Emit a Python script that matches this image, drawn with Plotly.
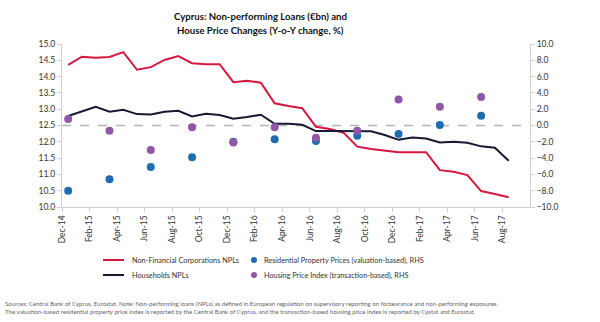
import plotly.graph_objects as go

# ---- data ----
months = ["Dec-14","Jan-15","Feb-15","Mar-15","Apr-15","May-15","Jun-15","Jul-15","Aug-15","Sep-15",
          "Oct-15","Nov-15","Dec-15","Jan-16","Feb-16","Mar-16","Apr-16","May-16","Jun-16","Jul-16",
          "Aug-16","Sep-16","Oct-16","Nov-16","Dec-16","Jan-17","Feb-17","Mar-17","Apr-17","May-17",
          "Jun-17","Jul-17","Aug-17"]
nfc_npl = [14.36,14.61,14.58,14.60,14.75,14.21,14.29,14.51,14.63,14.41,
           14.38,14.38,13.83,13.87,13.81,13.18,13.10,13.03,12.46,12.39,
           12.28,11.85,11.78,11.73,11.68,11.68,11.68,11.13,11.08,10.98,
           10.49,10.40,10.30]
hh_npl = [12.79,12.94,13.07,12.92,12.98,12.85,12.84,12.92,12.95,12.78,
          12.86,12.82,12.71,12.76,12.83,12.55,12.55,12.52,12.33,12.33,
          12.33,12.34,12.32,12.21,12.06,12.13,12.10,11.98,12.00,11.97,
          11.86,11.82,11.42]
quarters = ["Dec-14","Mar-15","Jun-15","Sep-15","Dec-15","Mar-16","Jun-16","Sep-16","Dec-16","Mar-17","Jun-17"]
res_prop_prices = [-8.0,-6.6,-5.1,-3.9,-2.0,-1.7,-1.9,-1.25,-1.05,0.05,1.2]
housing_price_idx = [0.8,-0.65,-3.0,-0.2,-2.1,-0.2,-1.5,-0.65,3.2,2.3,3.5]
tick_labels = ["Dec-14","Feb-15","Apr-15","Jun-15","Aug-15","Oct-15","Dec-15","Feb-16","Apr-16",
               "Jun-16","Aug-16","Oct-16","Dec-16","Feb-17","Apr-17","Jun-17","Aug-17"]
legend_names = ["Non-Financial Corporations NPLs","Households NPLs",
                "Residential Property Prices (valuation-based), RHS",
                "Housing Price Index (transaction-based), RHS"]
title_lines = ["Cyprus: Non-performing Loans (€bn) and", "House Price Changes (Y-o-Y change, %)"]

RED = "#d6163f"
NAVY = "#141a33"
BLUE = "#1f6db0"
PURPLE = "#9157a6"
OFF = 0.45

xm = [months.index(m) + OFF for m in months]
xq = [months.index(q) + OFF for q in quarters]
tickvals = [months.index(t) for t in tick_labels]

FONT = "Lato, Liberation Sans, Arial, sans-serif"
TXT = "#333333"

fig = go.Figure()
fig.add_trace(go.Scatter(x=xm, y=nfc_npl, mode="lines", line=dict(color=RED, width=2),
                         name=legend_names[0], showlegend=False))
fig.add_trace(go.Scatter(x=xm, y=hh_npl, mode="lines", line=dict(color=NAVY, width=2),
                         name=legend_names[1], showlegend=False))
fig.add_trace(go.Scatter(x=xq, y=res_prop_prices, mode="markers", yaxis="y2",
                         marker=dict(color=BLUE, size=8), name=legend_names[2], showlegend=False))
fig.add_trace(go.Scatter(x=xq, y=housing_price_idx, mode="markers", yaxis="y2",
                         marker=dict(color=PURPLE, size=8), name=legend_names[3], showlegend=False))

# zero line on RHS (dashed)
fig.add_shape(type="line", xref="x", yref="y2", x0=0, x1=34, y0=0, y1=0,
              line=dict(color="#b5b5b5", width=1.5, dash="dash"), layer="below")

axis_common = dict(showgrid=False, zeroline=False, showline=True, linecolor="#cfcfcf", linewidth=1,
                   ticks="outside", ticklen=4, tickcolor="#cfcfcf",
                   tickfont=dict(family=FONT, size=8.5, color=TXT))
fig.update_layout(
    width=600, height=322,
    margin=dict(l=62, r=70, t=44, b=115),
    paper_bgcolor="white", plot_bgcolor="white",
    font=dict(family=FONT, size=8.5, color=TXT),
    showlegend=False,
    xaxis=dict(range=[0, 34], tickvals=tickvals, ticktext=tick_labels, tickangle=-90, **axis_common),
    yaxis=dict(range=[10, 15], dtick=0.5, tickformat=".1f", **axis_common),
    yaxis2=dict(range=[-10, 10], dtick=2, tickformat=".1f", overlaying="y", side="right", **axis_common),
)

def px_x(px):
    return (px - 62) / 468

def px_y(py):
    return (207 - py) / 163

# title
for line, py in zip(title_lines, [16, 30]):
    fig.add_annotation(xref="paper", yref="paper", x=px_x(260), y=px_y(py),
                       text="<b>" + line + "</b>", showarrow=False, xanchor="center", yanchor="middle",
                       font=dict(family=FONT, size=9.6, color="#111111"))

# manual legend
leg_rows = [260, 275]
LEG_SIZE = 7.3
for name, color, row in [(legend_names[0], RED, 0), (legend_names[1], NAVY, 1)]:
    fig.add_shape(type="line", xref="paper", yref="paper", x0=px_x(103), x1=px_x(124),
                  y0=px_y(leg_rows[row]), y1=px_y(leg_rows[row]), line=dict(color=color, width=2))
    fig.add_annotation(xref="paper", yref="paper", x=px_x(130), y=px_y(leg_rows[row]), text=name,
                       showarrow=False, xanchor="left", yanchor="middle",
                       font=dict(family=FONT, size=LEG_SIZE, color=TXT))
for name, color, row in [(legend_names[2], BLUE, 0), (legend_names[3], PURPLE, 1)]:
    fig.add_shape(type="circle", xref="paper", yref="paper", x0=px_x(251), x1=px_x(257),
                  y0=px_y(leg_rows[row] - 3), y1=px_y(leg_rows[row] + 3),
                  fillcolor=color, line=dict(color=color, width=0))
    fig.add_annotation(xref="paper", yref="paper", x=px_x(262), y=px_y(leg_rows[row]), text=name,
                       showarrow=False, xanchor="left", yanchor="middle",
                       font=dict(family=FONT, size=LEG_SIZE, color=TXT))

# footnote
foot = ("Sources: Central Bank of Cyprus, Eurostat. Note: Non-performing loans (NPLs) as defined in European regulation on supervisory reporting on forbearance and non-performing exposures.<br>"
        "The valuation-based residential property price index is reported by the Central Bank of Cyprus, and the transaction-based housing price index is reported by Cystat and Eurostat.")
fig.add_annotation(xref="paper", yref="paper", x=px_x(3), y=px_y(307), text=foot,
                   showarrow=False, xanchor="left", yanchor="middle", align="left",
                   font=dict(family=FONT, size=6.1, color="#666666"))

fig.write_html("out.html")
